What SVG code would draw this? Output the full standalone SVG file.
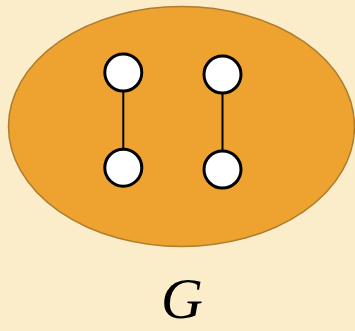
<svg xmlns="http://www.w3.org/2000/svg" width="355" height="331" viewBox="0 0 355 331">
<style>
.node{fill:#fff;stroke:#000;stroke-width:3}
.edge{stroke:#000;stroke-width:2}
</style>
<rect width="355" height="331" fill="#FBECCA"/>
<g id="G-set"><ellipse cx="181.5" cy="126.5" rx="173" ry="120" fill="#EEA330" stroke="#B07C2E" stroke-width="1.5"/></g>
<g id="edges">
<line class="edge" x1="123.3" y1="72.5" x2="123.3" y2="167.7"/>
<line class="edge" x1="222.5" y1="74.5" x2="222.5" y2="169.5"/>
</g>
<g id="n1"><circle class="node" cx="123.3" cy="72.5" r="18.5"/></g>
<g id="n2"><circle class="node" cx="123.3" cy="167.7" r="18.5"/></g>
<g id="n3"><circle class="node" cx="222.5" cy="74.5" r="18.5"/></g>
<g id="n4"><circle class="node" cx="222.5" cy="169.5" r="18.5"/></g>
<g id="label"><text x="182" y="318" text-anchor="middle" font-family="'Liberation Serif', serif" font-style="italic" font-size="58" fill="#000">G</text></g>
</svg>
